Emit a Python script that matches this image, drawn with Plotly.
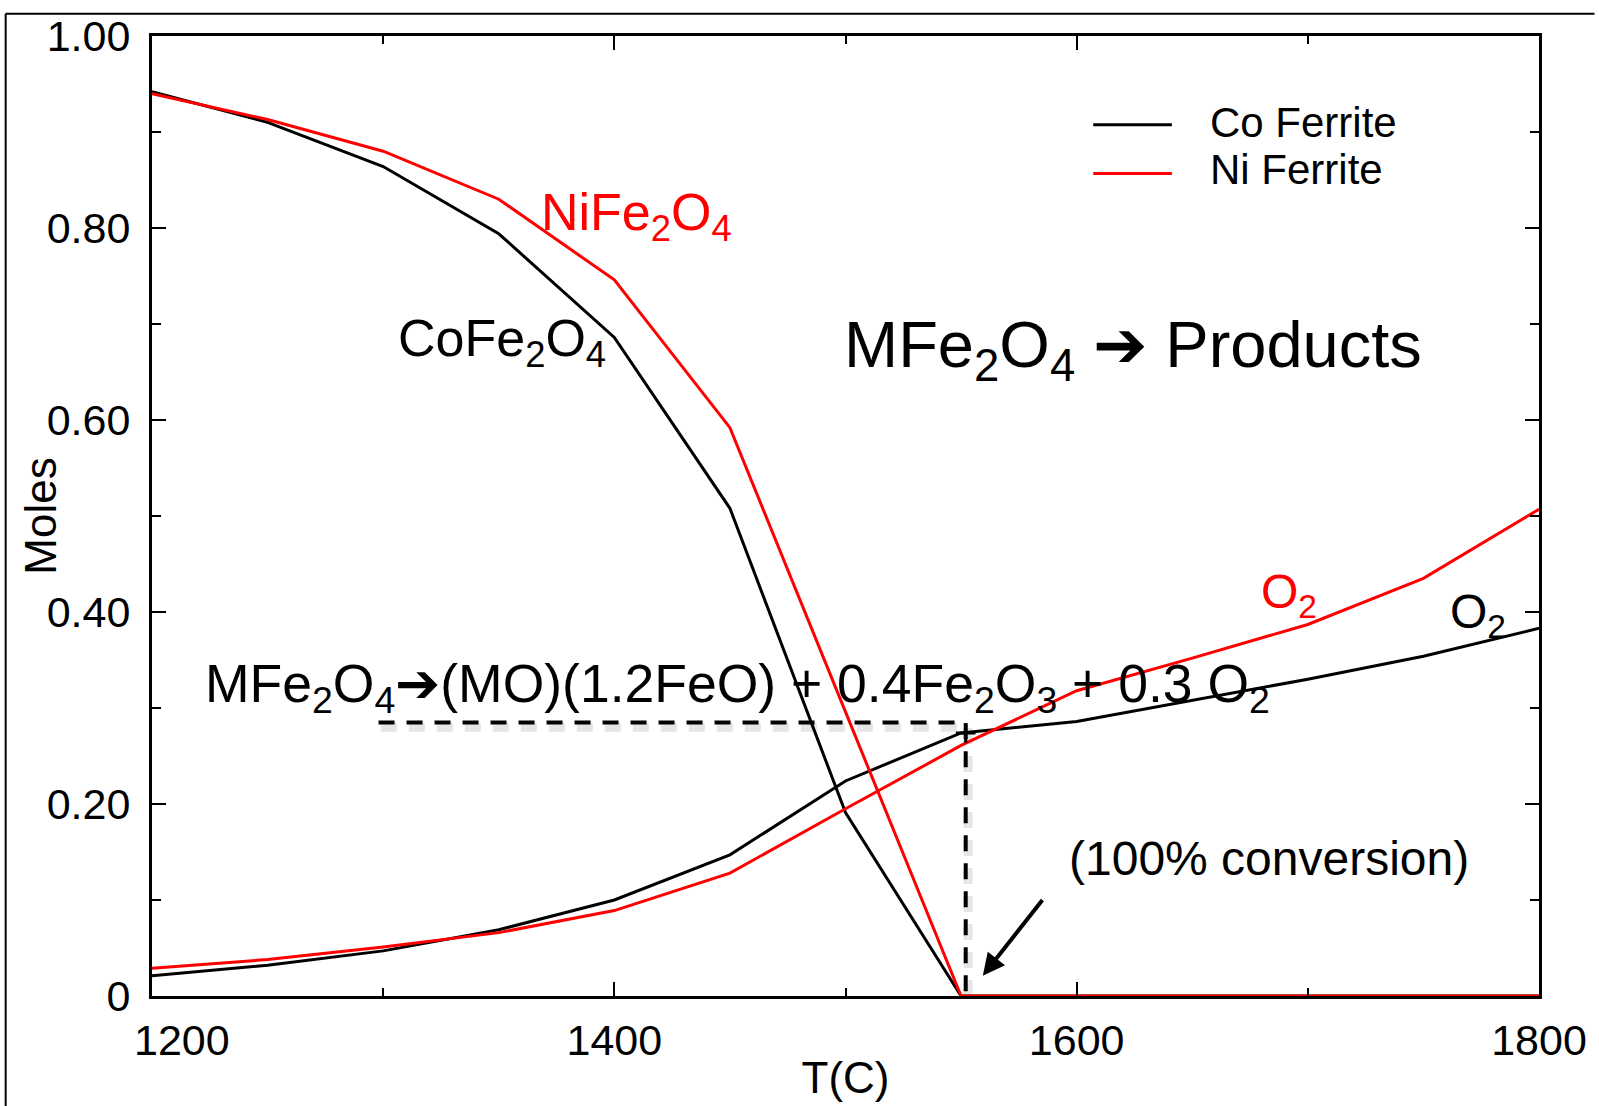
import plotly.graph_objects as go

# Temperature grid (deg C)
temps = [1200, 1250, 1300, 1350, 1400, 1450, 1500, 1550, 1600, 1650, 1700, 1750, 1800]

# Remaining ferrite (moles)
co_ferrite = [0.942, 0.910, 0.864, 0.794, 0.686, 0.508, 0.191, 0.0, 0.0, 0.0, 0.0, 0.0, 0.0]
ni_ferrite = [0.940, 0.913, 0.880, 0.830, 0.746, 0.592, 0.296, 0.0, 0.0, 0.0, 0.0, 0.0, 0.0]

# O2 released (moles)
co_o2 = [0.021, 0.032, 0.047, 0.069, 0.100, 0.147, 0.224, 0.274, 0.286, 0.308, 0.330, 0.354, 0.383]
ni_o2 = [0.029, 0.038, 0.051, 0.066, 0.089, 0.128, 0.195, 0.261, 0.318, 0.352, 0.387, 0.435, 0.507]

# Full-conversion guide (temperature, moles O2)
conv_temp = [1298, 1552, 1552]
conv_moles = [0.285, 0.285, 0.0]

x_ticks = [1200, 1400, 1600, 1800]
x_tick_text = ["\u00a0" * 5 + "1200", "1400", "1600", "1800"]
y_ticks = [0, 0.2, 0.4, 0.6, 0.8, 1.0]
y_tick_text = ["0", "0.20", "0.40", "0.60", "0.80", "1.00"]

FONT = "Liberation Sans, Arial, Helvetica, sans-serif"
BLACK = "#000000"
RED = "#ff0000"

fig = go.Figure()

# soft shadow under the dashed guide
fig.add_trace(go.Scatter(
    x=[t + 1.0 for t in conv_temp], y=[m - 0.005 for m in conv_moles],
    mode="lines", line=dict(color="rgba(0,0,0,0.10)", width=9, dash="16px,12px"),
    hoverinfo="skip", showlegend=False))
fig.add_trace(go.Scatter(
    x=conv_temp, y=conv_moles, mode="lines",
    line=dict(color=BLACK, width=4, dash="16px,12px"),
    hoverinfo="skip", showlegend=False))

fig.add_trace(go.Scatter(x=temps, y=co_ferrite, mode="lines", name="Co Ferrite",
                         line=dict(color=BLACK, width=3), showlegend=False))
fig.add_trace(go.Scatter(x=temps, y=co_o2, mode="lines", name="Co Ferrite O2",
                         line=dict(color=BLACK, width=3), showlegend=False))
fig.add_trace(go.Scatter(x=temps, y=ni_ferrite, mode="lines", name="Ni Ferrite",
                         line=dict(color=RED, width=3), showlegend=False))
fig.add_trace(go.Scatter(x=temps, y=ni_o2, mode="lines", name="Ni Ferrite O2",
                         line=dict(color=RED, width=3), showlegend=False))

# marker at the full-conversion point
fig.add_trace(go.Scatter(x=[conv_temp[1]], y=[co_o2[7]], mode="markers",
                         marker=dict(symbol="cross-thin", size=14,
                                     line=dict(color=BLACK, width=3)),
                         hoverinfo="skip", showlegend=False))

axis_common = dict(
    showline=True, linecolor=BLACK, linewidth=3, mirror="ticks",
    ticks="inside", tickcolor=BLACK, tickwidth=2, ticklen=14,
    showgrid=False, zeroline=False,
    tickfont=dict(family=FONT, size=43, color=BLACK),
)

fig.update_xaxes(
    range=[1200, 1800], tickvals=x_ticks, ticktext=x_tick_text,
    minor=dict(ticks="inside", ticklen=8, tickwidth=2, tickcolor=BLACK, dtick=100,
               tick0=1200, showgrid=False),
    ticklabelstandoff=4,
    title=dict(text="T(C)", font=dict(family=FONT, size=44, color=BLACK), standoff=0),
    **axis_common)
fig.update_yaxes(
    range=[0, 1], tickvals=y_ticks, ticktext=y_tick_text,
    minor=dict(ticks="inside", ticklen=9, tickwidth=2, tickcolor=BLACK, dtick=0.1,
               tick0=0, showgrid=False),
    ticklabelstandoff=10,
    **axis_common)

annotations = [
    dict(x=-0.081, y=0.5, xref="paper", yref="paper", text="Moles", textangle=-90,
         xanchor="center", yanchor="middle",
         showarrow=False, font=dict(family=FONT, size=44, color=BLACK)),
    dict(x=1367.5, y=0.813, text="NiFe<sub>2</sub>O<sub>4</sub>", xanchor="left",
         showarrow=False, font=dict(family=FONT, size=52, color=RED)),
    dict(x=1305.5, y=0.681, text="CoFe<sub>2</sub>O<sub>4</sub>", xanchor="left",
         showarrow=False, font=dict(family=FONT, size=52, color=BLACK)),
    dict(x=1498.5, y=0.673, text="MFe<sub>2</sub>O<sub>4</sub> \u2794 Products", xanchor="left",
         showarrow=False, font=dict(family=FONT, size=65, color=BLACK)),
    dict(x=1222, y=0.321,
         text="MFe<sub>2</sub>O<sub>4</sub>\u2794(MO)(1.2FeO) + 0.4Fe<sub>2</sub>O<sub>3</sub> + 0.3 O<sub>2</sub>",
         xanchor="left", showarrow=False, font=dict(family=FONT, size=53.5, color=BLACK)),
    dict(x=1683, y=0.143, text="(100% conversion)", showarrow=False,
         font=dict(family=FONT, size=48, color=BLACK)),
    dict(x=1679, y=0.418, text="O<sub>2</sub>", xanchor="left", showarrow=False,
         font=dict(family=FONT, size=48, color=RED)),
    dict(x=1760.5, y=0.397, text="O<sub>2</sub>", xanchor="left", showarrow=False,
         font=dict(family=FONT, size=48, color=BLACK)),
    # arrow pointing at the conversion point
    dict(x=1559.4, y=0.021, ax=1585.7, ay=0.1016, xref="x", yref="y", axref="x", ayref="y",
         text="", showarrow=True, arrowhead=2, arrowsize=1.1, arrowwidth=4, arrowcolor=BLACK),
    # legend entries
    dict(x=0.7611, y=0.9103, xref="paper", yref="paper", text="Co Ferrite",
         xanchor="left", yanchor="middle",
         showarrow=False, font=dict(family=FONT, size=42, color=BLACK)),
    dict(x=0.7611, y=0.8606, xref="paper", yref="paper", text="Ni Ferrite",
         xanchor="left", yanchor="middle",
         showarrow=False, font=dict(family=FONT, size=42, color=BLACK)),
]

shapes = [
    # legend keys
    dict(type="line", xref="paper", yref="paper", x0=0.6786, x1=0.7353, y0=0.9075, y1=0.9075,
         line=dict(color=BLACK, width=3)),
    dict(type="line", xref="paper", yref="paper", x0=0.6786, x1=0.7353, y0=0.8567, y1=0.8567,
         line=dict(color=RED, width=3)),
    # outer frame (top and left edges)
    dict(type="line", xref="paper", yref="paper", x0=-0.1055, x1=1.04, y0=1.0233, y1=1.0233,
         line=dict(color=BLACK, width=2)),
    dict(type="line", xref="paper", yref="paper", x0=-0.1055, x1=-0.1055, y0=1.0233, y1=-0.12,
         line=dict(color=BLACK, width=2)),
]

fig.update_layout(
    width=1599, height=1106,
    margin=dict(l=152, r=53, t=32, b=109),
    paper_bgcolor="white", plot_bgcolor="white",
    font=dict(family=FONT, color=BLACK),
    annotations=annotations, shapes=shapes,
    showlegend=False,
)

fig.write_html("out.html")
